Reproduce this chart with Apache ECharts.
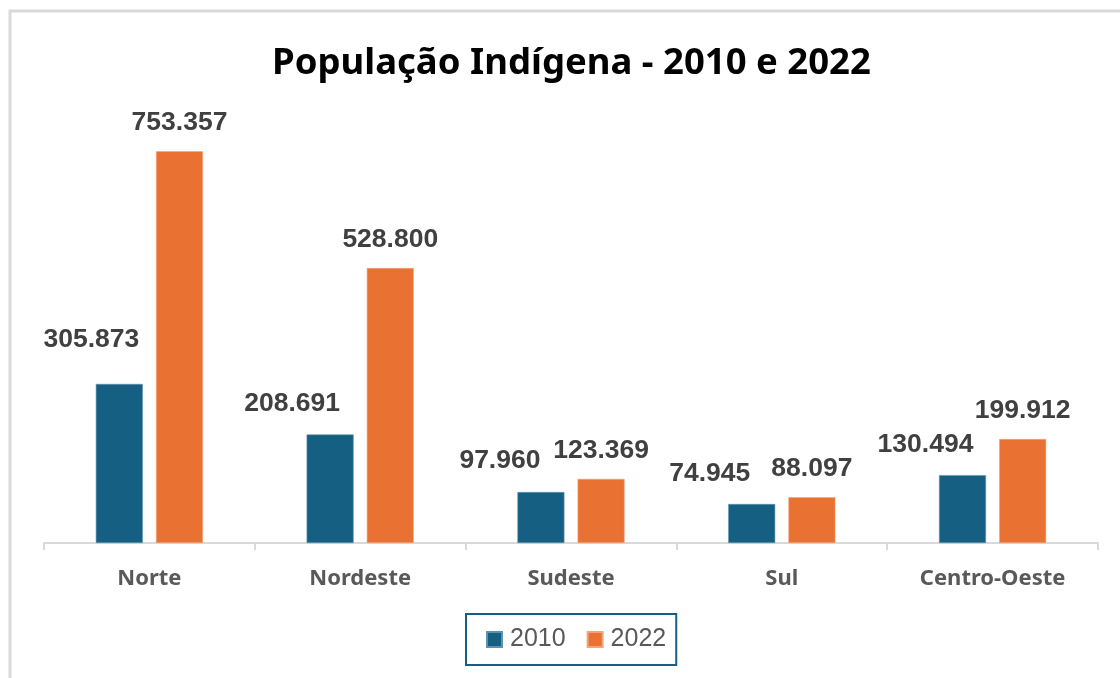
<!DOCTYPE html>
<html>
<head>
<meta charset="utf-8">
<script src="https://cdn.jsdelivr.net/npm/echarts@6/dist/echarts.min.js"></script>
<style>
  html, body { margin: 0; padding: 0; background: #ffffff; }
  #chart { width: 1120px; height: 678px; }
</style>
</head>
<body>
<div id="chart"></div>
<script>
// Indigenous population by region, census 2010 vs 2022
const regions = ['Norte', 'Nordeste', 'Sudeste', 'Sul', 'Centro-Oeste'];
const pop2010 = [305873, 208691, 97960, 74945, 130494];
const pop2022 = [753357, 528800, 123369, 88097, 199912];
const seriesNames = ['2010', '2022'];

// label nudges for the 2010 series (kept apart from the data)
const shift2010 = [[-28, -16], [-38, -2], [-41, -3], [-42, -2], [-37, -2]];

const fmt = v => v.toString().replace(/\B(?=(\d{3})+(?!\d))/g, '.');

const labelBase = {
  show: true,
  position: 'top',
  distance: 15,
  fontFamily: 'Liberation Sans, Arial, sans-serif',
  fontWeight: 'bold',
  fontSize: 26.5,
  color: '#404040',
  formatter: p => fmt(p.value)
};

const chart = echarts.init(document.getElementById('chart'), null, { renderer: 'canvas' });

chart.setOption({
  animation: false,
  backgroundColor: '#ffffff',
  graphic: [{
    type: 'rect',
    shape: { x: 10, y: 11, width: 1300, height: 900 },
    style: { fill: 'none', stroke: '#d9d9d9', lineWidth: 3 },
    silent: true
  }],
  title: {
    text: 'População Indígena - 2010 e 2022',
    left: 267,
    top: 40,
    textStyle: {
      fontFamily: 'Noto Sans, sans-serif',
      fontWeight: 'bold',
      fontSize: 36.5,
      color: '#000000'
    }
  },
  legend: {
    data: seriesNames,
    left: 466,
    top: 614,
    padding: [13, 10, 13, 20],
    borderColor: '#156082',
    borderWidth: 2,
    itemWidth: 15,
    itemHeight: 15,
    itemGap: 21,
    icon: 'rect',
    textStyle: {
      fontFamily: 'Liberation Sans, Arial, sans-serif',
      fontSize: 25,
      color: '#595959',
      padding: [0, 0, 0, 3]
    }
  },
  grid: { left: 44, right: 22, top: 127, bottom: 135 },
  xAxis: {
    type: 'category',
    data: regions,
    axisLine: { show: true, lineStyle: { color: '#d9d9d9', width: 2 } },
    axisTick: { show: true, length: 7, lineStyle: { color: '#d9d9d9', width: 2 } },
    axisLabel: {
      margin: 25,
      fontFamily: 'Noto Sans, sans-serif',
      fontWeight: 'bold',
      fontSize: 22,
      color: '#595959'
    }
  },
  yAxis: {
    type: 'value',
    min: 0,
    max: 800000,
    show: false,
    splitLine: { show: false }
  },
  series: [
    {
      name: seriesNames[0],
      type: 'bar',
      data: pop2010.map((v, i) => ({
        value: v,
        label: { offset: shift2010[i] }
      })),
      itemStyle: { color: '#156082', borderColor: '#5f93ad', borderWidth: 0.6 },
      barWidth: 47,
      barGap: '28%',
      label: labelBase
    },
    {
      name: seriesNames[1],
      type: 'bar',
      data: pop2022,
      itemStyle: { color: '#E97132', borderColor: '#f3a47a', borderWidth: 0.6 },
      barWidth: 47,
      label: labelBase
    }
  ]
});
</script>
</body>
</html>
